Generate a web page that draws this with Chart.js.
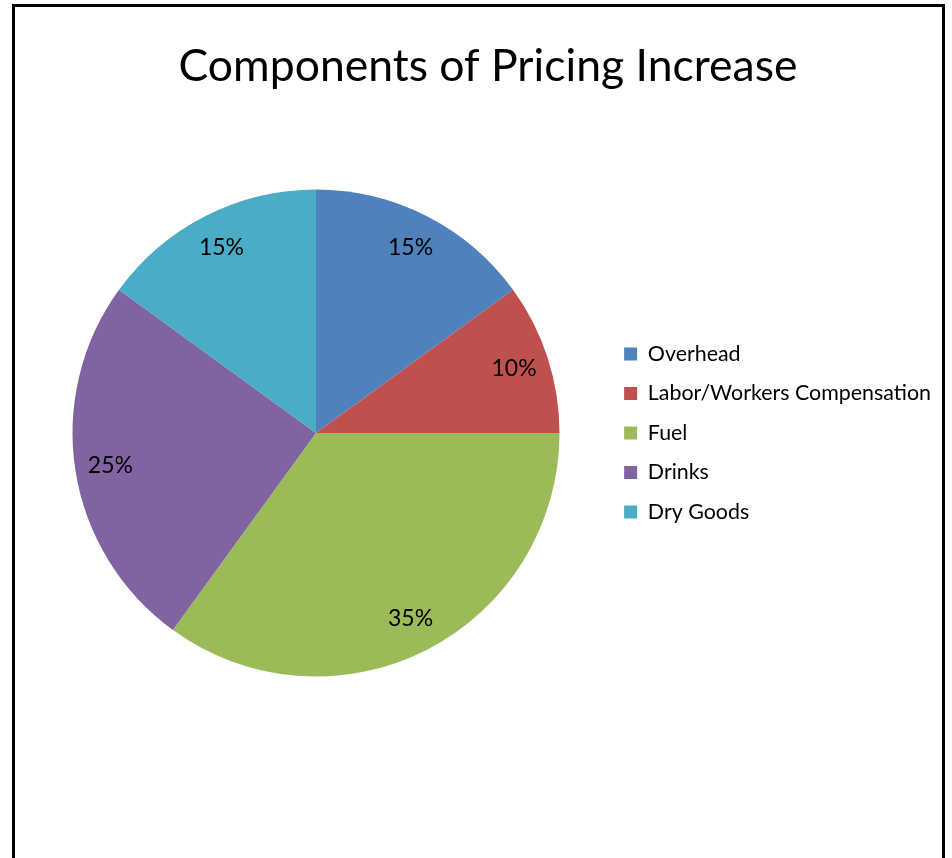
<!DOCTYPE html>
<html>
<head>
<meta charset="utf-8">
<script src="https://cdn.jsdelivr.net/npm/chart.js@4"></script>
<style>
  html, body { margin: 0; padding: 0; background: #fff; overflow: hidden; }
  #frame {
    position: absolute; left: 12px; top: 4px;
    width: 927px; height: 900px;
    border: 3px solid #000;
  }
  #wrap { position: absolute; left: 0; top: 0; width: 952px; height: 858px; }
</style>
</head>
<body>
<div id="frame"></div>
<div id="wrap"><canvas id="pie"></canvas></div>
<script>
const labels = ["Overhead", "Labor/Workers Compensation", "Fuel", "Drinks", "Dry Goods"];
const shares = [15, 10, 35, 25, 15];
const colors = ["#4F81BD", "#C0504D", "#9BBB59", "#8064A2", "#4BACC6"];

const font = "Lato, 'Open Sans', sans-serif";

// percent labels inside each slice
const sliceLabels = {
  id: "sliceLabels",
  afterDatasetsDraw(chart) {
    const ctx = chart.ctx;
    const meta = chart.getDatasetMeta(0);
    ctx.save();
    ctx.font = "23px " + font;
    ctx.fillStyle = "#000";
    ctx.textAlign = "center";
    ctx.textBaseline = "middle";
    meta.data.forEach((arc, i) => {
      const mid = (arc.startAngle + arc.endAngle) / 2;
      const r = arc.outerRadius * 0.855;
      ctx.fillText(shares[i] + "%", arc.x + Math.cos(mid) * r, arc.y + Math.sin(mid) * r);
    });
    ctx.restore();
  }
};

// nudge the title to the right like the original
const titleShift = {
  id: "titleShift",
  afterLayout(chart) {
    if (chart.titleBlock) {
      chart.titleBlock.left += 4.5;
      chart.titleBlock.right += 4.5;
    }
  }
};

new Chart(document.getElementById("pie"), {
  type: "pie",
  data: {
    labels: labels,
    datasets: [{
      data: shares,
      backgroundColor: colors,
      borderWidth: 0,
      radius: 243.5
    }]
  },
  options: {
    responsive: true,
    maintainAspectRatio: false,
    animation: false,
    layout: { padding: { left: 26, right: 11, top: 0, bottom: 105.4 } },
    plugins: {
      title: {
        display: true,
        text: "Components of Pricing Increase",
        color: "#000",
        font: { family: font, size: 44.5, weight: "normal", lineHeight: 1.2 },
        padding: { top: 40, bottom: 20 }
      },
      legend: {
        position: "right",
        fullSize: false,
        labels: {
          boxWidth: 13,
          boxHeight: 13,
          padding: 18.1,
          color: "#000",
          font: { family: font, size: 21.4 }
        }
      },
      tooltip: { enabled: false }
    }
  },
  plugins: [sliceLabels, titleShift]
});
</script>
</body>
</html>
